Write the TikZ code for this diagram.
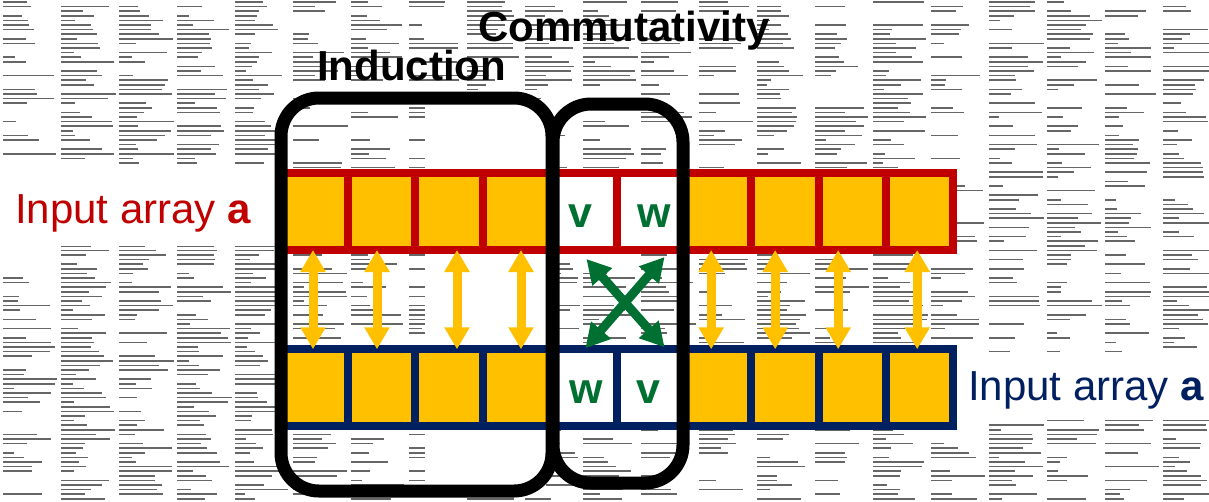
\documentclass[tikz,border=0pt]{standalone}
\usepackage{fontspec}
\setmainfont{Liberation Sans}
\usetikzlibrary{arrows.meta}
\definecolor{ared}{RGB}{192,0,0}
\definecolor{ablue}{RGB}{0,32,96}
\definecolor{ayel}{RGB}{255,192,0}
\definecolor{agreen}{RGB}{0,112,50}
\begin{document}
\begin{tikzpicture}[x=1pt,y=-1pt,
  bgline/.style={draw=black!60,line width=1.5pt},
  cellbox/.style={minimum width=67.2pt,minimum height=77pt,inner sep=0pt,outer sep=0pt,line width=8pt,fill=ayel},
  toprow/.style={cellbox,draw=ared},
  botrow/.style={cellbox,draw=ablue},
  letter/.style={text=agreen,font=\fontsize{43}{43}\selectfont\bfseries,inner sep=0pt},
  yarrow/.style={draw=ayel,line width=9pt,{Triangle[length=22pt,width=24pt]}-{Triangle[length=22pt,width=24pt]}},
  garrow/.style={draw=agreen,line width=9pt,{Triangle[length=24pt,width=25pt]}-{Triangle[length=24pt,width=25pt]}},
  gbox/.style={draw=black,line width=13pt,rounded corners=38pt,inner sep=0pt,outer sep=0pt},
  biglabel/.style={font=\fontsize{42}{42}\selectfont\bfseries,inner sep=0pt},
  arrlabel/.style={font=\fontsize{42}{42}\selectfont,inner sep=0pt}]
\useasboundingbox (0,0) rectangle (1209,501);
\fill[white] (0,0) rectangle (1209,501);
% background texture
\pgfmathsetseed{4242}
\foreach \c in {0,...,20}{
  \pgfmathsetmacro{\dens}{0.45+0.45*rnd}
  \foreach \r in {0,...,108}{
    \pgfmathsetmacro{\p}{rnd}
    \pgfmathsetmacro{\len}{10+45*rnd}
    \ifdim \p pt < \dens pt
      \draw[bgline] ({\c*58+3},{\r*4.6+2}) -- ++(\len,0);
    \fi
  }
}
% white areas
\fill[white] (0,165) rectangle (282,246);
\fill[white] (956,352) rectangle (1209,418);
\fill[white] (425,105) rectangle (546,486);
% rows
\foreach \k in {1,2,3,4,7,8,9,10}{
  \node[toprow] (t\k) at ({281+67.2*(\k-0.5)},211.5) {};
  \node[botrow] (b\k) at ({281+67.2*(\k-0.5)},387.75) {};
}
\foreach \k in {5,6}{
  \node[toprow,fill=white] (t\k) at ({281+67.2*(\k-0.5)},211.5) {};
  \node[botrow,fill=white] (b\k) at ({281+67.2*(\k-0.5)},387.75) {};
}
% letters
\node[letter] (lv1) at ([xshift=-3pt,yshift=-4.5pt]t5.center) {v};
\node[letter] (lw1) at ([xshift=4pt,yshift=-4.5pt]t6.center) {w};
\node[letter] (lw2) at ([xshift=3pt,yshift=-4.75pt]b5.center) {w};
\node[letter] (lv2) at ([xshift=-2pt,yshift=-4.75pt]b6.center) {v};
% yellow arrows
\draw[yarrow] ([xshift=-1.6pt]t1.south) -- ([xshift=-1.6pt]b1.north);
\draw[yarrow] ([xshift=-4.8pt]t2.south) -- ([xshift=-4.8pt]b2.north);
\draw[yarrow] ([xshift=8pt]t3.south) -- ([xshift=8pt]b3.north);
\draw[yarrow] ([xshift=4.8pt]t4.south) -- ([xshift=4.8pt]b4.north);
\draw[yarrow] ([xshift=-6.6pt]t7.south) -- ([xshift=-6.6pt]b7.north);
\draw[yarrow] ([xshift=-9.8pt]t8.south) -- ([xshift=-9.8pt]b8.north);
\draw[yarrow] ([xshift=-14pt]t9.south) -- ([xshift=-14pt]b9.north);
\draw[yarrow] ([xshift=-2.2pt]t10.south) -- ([xshift=-2.2pt]b10.north);
% green crossing arrows
\draw[garrow] ([xshift=3pt,yshift=-9pt]t5.south) -- ([xshift=14pt,yshift=2pt]b6.north);
\draw[garrow] ([xshift=14pt,yshift=-7pt]t6.south) -- ([xshift=2pt,yshift=1pt]b5.north);
% black boxes
\node[gbox,minimum width=271pt,minimum height=393pt] (ind) at (416.5,294.5) {};
\node[gbox,minimum width=130pt,minimum height=379pt] (com) at (618,293.5) {};
% titles
\node[biglabel,anchor=base west] (indl) at (317,80) {Induction};
\node[biglabel,anchor=base west] (coml) at (478,41) {Commutativity};
% side labels
\node[arrlabel,text=ared,anchor=base west] (lin) at (15,223) {Input array \textbf{a}};
\node[arrlabel,text=ablue,anchor=base west] (rin) at (968,400) {Input array \textbf{a}};
\end{tikzpicture}
\end{document}
